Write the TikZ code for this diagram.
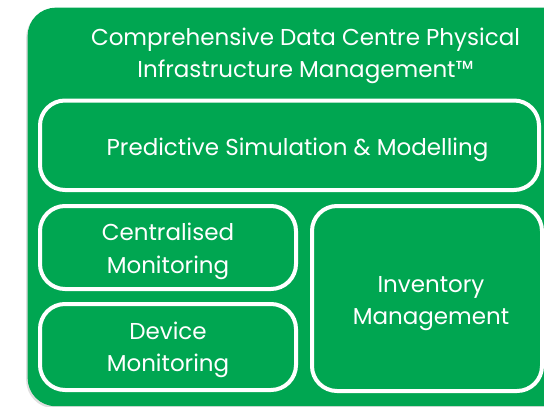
\documentclass[tikz,border=0pt]{standalone}
\usepackage{fontspec}
\setmainfont{Poppins}
\usetikzlibrary{shadows}
\definecolor{dcgreen}{HTML}{00A651}
\tikzset{
	panel/.style={fill=dcgreen, rounded corners=28pt, inner sep=0pt,
		drop shadow={shadow xshift=-1.5pt, shadow yshift=-2pt, opacity=0.25}},
	module/.style={draw=white, line width=4pt, rounded corners=25pt, inner sep=0pt},
	heading/.style={text=white, align=center, inner sep=0pt, font=\fontsize{23}{32.5}\selectfont}
}
\begin{document}
\begin{tikzpicture}[x=1pt, y=-1pt]
	\useasboundingbox (0,0) rectangle (544,407);
	\clip (0,0) rectangle (544,407);
	% Background panel
	\node[panel, minimum width=545pt, minimum height=398.5pt, anchor=north west] (panel) at (27.5, 7.5) {};
	\node[heading] (title) at (305.5, 56) {Comprehensive Data Centre Physical\\Infrastructure Management™};

	% Modules inside the panel
	\node[module, minimum width=499pt, minimum height=89.5pt] (predict) at (289.5, 145.25) {};
	\node[module, minimum width=256pt, minimum height=83pt] (central) at (168, 247.5) {};
	\node[module, minimum width=256pt, minimum height=86pt] (device) at (168, 347) {};
	\node[module, minimum width=230pt, minimum height=185pt] (inventory) at (427, 298.5) {};

	% Module labels
	\node[heading] (predictlbl) at ([xshift=8pt, yshift=-5pt]predict.center) {Predictive Simulation \& Modelling};
	\node[heading] (centrallbl) at ([yshift=-4pt]central.center) {Centralised\\Monitoring};
	\node[heading] (devicelbl) at ([yshift=-3pt]device.center) {Device\\Monitoring};
	\node[heading] (inventorylbl) at ([xshift=4pt, yshift=-5pt]inventory.center) {Inventory\\Management};
\end{tikzpicture}
\end{document}
